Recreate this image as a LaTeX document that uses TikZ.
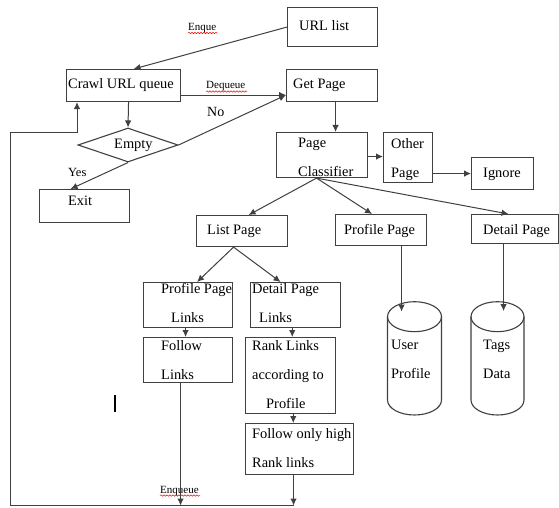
\documentclass[tikz,border=0pt]{standalone}
\usepackage{fontspec}
\setmainfont{Liberation Serif}
\usetikzlibrary{arrows.meta,shapes.geometric,decorations.pathmorphing}
\definecolor{ln}{gray}{0.25}
\begin{document}
\begin{tikzpicture}[x=1pt,y=-1pt,
  box/.style={draw=ln, line width=1.1pt, rectangle, inner sep=0pt, anchor=north west},
  txt/.style={font=\fontsize{14.4}{29}\selectfont, inner sep=0pt, align=left, anchor=north west, text=black},
  stxt/.style={font=\fontsize{14.4}{29}\selectfont, inner sep=0pt, anchor=base west, text=black},
  lbl/.style={font=\fontsize{11}{13}\selectfont, inner sep=0pt, anchor=base west, text=black},
  arr/.style={draw=ln, line width=1pt, -{Latex[length=7pt,width=6.5pt]}},
  cyl/.style={draw=ln, line width=1.1pt},
  squig/.style={draw=red, line width=0.5pt, decorate, decoration={snake, amplitude=0.7pt, segment length=3pt}}]
\useasboundingbox (0,0) rectangle (559,508);
\fill[white] (0,0) rectangle (559,508);

% boxes
\node[box, minimum width=90, minimum height=39] (url) at (287,7) {};
\node[box, minimum width=114, minimum height=32] (crawl) at (66,69) {};
\node[box, minimum width=91, minimum height=32] (get) at (286,69) {};
\node[draw=ln, line width=1.1pt, diamond, inner sep=0pt, minimum width=100, minimum height=34] (empty) at (128,145) {};
\node[box, minimum width=90, minimum height=33] (exit) at (39,189) {};
\node[box, minimum width=91, minimum height=45] (pc) at (276,132) {};
\node[box, minimum width=49, minimum height=50] (other) at (383,132) {};
\node[box, minimum width=62, minimum height=32] (ignore) at (471,157) {};
\node[box, minimum width=91, minimum height=31] (list) at (196,215) {};
\node[box, minimum width=91, minimum height=31] (prof) at (335,214) {};
\node[box, minimum width=87, minimum height=29] (detail) at (471,214) {};
\node[box, minimum width=89, minimum height=45] (ppl) at (143,282) {};
\node[box, minimum width=90, minimum height=45] (dpl) at (250,282) {};
\node[box, minimum width=89, minimum height=45] (fl) at (143,337) {};
\node[box, minimum width=90, minimum height=76] (rank) at (245,337) {};
\node[box, minimum width=108, minimum height=51] (fh) at (245,423) {};

% cylinders
\node[inner sep=0pt, minimum width=54, minimum height=113, anchor=north west] (cylA) at (387.5,301.7) {};
\draw[cyl] (414.5,316.7) ellipse [x radius=27, y radius=15];
\draw[cyl] (387.5,316.7) -- (387.5,400) .. controls (387.5,408.3) and (399.6,415) .. (414.5,415)
  .. controls (429.4,415) and (441.5,408.3) .. (441.5,400) -- (441.5,316.7);
\node[inner sep=0pt, minimum width=53, minimum height=113, anchor=north west] (cylB) at (471,301.7) {};
\draw[cyl] (497.5,316.7) ellipse [x radius=26.5, y radius=15];
\draw[cyl] (471,316.7) -- (471,400) .. controls (471,408.3) and (482.9,415) .. (497.5,415)
  .. controls (512.1,415) and (524,408.3) .. (524,400) -- (524,316.7);

% texts
\node[stxt] (urlT) at (299,31) {URL list};
\node[stxt] (crawlT) at (68,89) {Crawl URL queue};
\node[stxt] (getT) at (293,89) {Get Page};
\node[stxt] (emptyT) at (114,148) {Empty};
\node[stxt] (exitT) at (68,205) {Exit};
\node[txt] (pcT) at (298,138.2) {Page\\Classifier};
\node[txt] (otherT) at (391,138.2) {Other\\Page};
\node[stxt] (ignoreT) at (483,177) {Ignore};
\node[stxt] (listT) at (207,234) {List Page};
\node[stxt] (profT) at (344,234) {Profile Page};
\node[stxt] (detailT) at (483,234) {Detail Page};
\node[txt] (pplT) at (161,283.2) {Profile Page\\\hspace*{10pt}Links};
\node[txt] (dplT) at (252,283.2) {Detail Page\\\hspace*{7pt}Links};
\node[txt] (flT) at (161,340.2) {Follow\\Links};
\node[txt] (rankT) at (252,340.2) {Rank Links\\according to\\\hspace*{14pt}Profile};
\node[txt] (fhT) at (252,428.2) {Follow only high\\Rank links};
\node[txt] (cylAT) at (391,340.2) {User\\Profile};
\node[txt] (cylBT) at (483,340.2) {Tags\\Data};

% labels
\node[lbl] (enque) at (188,30.5) {Enque};
\node[lbl] (deq) at (206,89) {Dequeue};
\node[lbl] (enq) at (160,493) {Enqueue};
\node[font=\fontsize{14}{16}\selectfont, inner sep=0pt, anchor=base west] (no) at (207,117) {No};
\node[font=\fontsize{12.5}{14}\selectfont, inner sep=0pt, anchor=base west] (yes) at (68,176) {Yes};
\draw[squig] (enque.base west) ++(0,2.5) -- ++(29,0);
\draw[squig] (deq.base west) ++(0,2.5) -- ++(41,0);
\draw[squig] (enq.base west) ++(0,2.5) -- ++(40,0);

% cursor mark
\draw[line width=2.5pt, black] (115,395) -- (115,412);

% connectors
\draw[arr] (url.west) -- ([xshift=10pt]crawl.north);
\draw[arr] ([yshift=-9.5pt]crawl.east) -- ([yshift=-9.5pt]get.west);
\draw[arr] (empty.east) -- ([yshift=-9.5pt]get.west);
\draw[arr] ([xshift=5pt]crawl.south) -- (empty.north);
\draw[arr] (empty.south) -- ([xshift=-14pt]exit.north);
\draw[arr] ([xshift=3.5pt]get.south) -- ([xshift=3.5pt]get.south |- pc.north);
\draw[arr] ([yshift=-1.5pt]pc.east) -- ([yshift=-1.5pt]pc.east -| other.west);
\draw[arr] (ignore.west -| other.east) -- (ignore.west);
\draw[arr] ([xshift=-5.5pt]pc.south) -- ([xshift=6.5pt]list.north);
\draw[arr] ([xshift=-5.5pt]pc.south) -- ([xshift=-9pt]prof.north);
\draw[arr] ([xshift=-5.5pt]pc.south) -- ([xshift=-6.5pt]detail.north);
\draw[arr] ([xshift=-8.5pt]list.south) -- ([xshift=9pt]ppl.north);
\draw[arr] ([xshift=-8.5pt]list.south) -- ([xshift=-15pt]dpl.north);
\draw[arr] ([xshift=-2.5pt]ppl.south) -- ([xshift=-2.5pt]ppl.south |- fl.north);
\draw[arr] ([xshift=-3.3pt]dpl.south) -- ([xshift=-3.3pt]dpl.south |- rank.north);
\draw[arr] ([xshift=2.7pt]rank.south) -- ([xshift=2.7pt]rank.south |- fh.north);
\draw[arr] ([xshift=20.5pt]prof.south) -- ++(0,65.5);
\draw[arr] ([xshift=-11.5pt]detail.south) -- ++(0,67);

% enqueue loop
\coordinate (bl) at (10,505.5);
\coordinate (tl) at (10,132);
\coordinate (tr) at (77,132);
\draw[arr] ([xshift=-7.5pt]fl.south) -- ([xshift=-7.5pt]fl.south |- bl);
\draw[arr] ([xshift=-6pt]fh.south) -- ([xshift=-6pt]fh.south |- bl);
\draw[arr] ([xshift=-6pt]fh.south |- bl) -- (bl) -- (tl) -- (tr) -- (tr |- crawl.south);
\end{tikzpicture}
\end{document}
